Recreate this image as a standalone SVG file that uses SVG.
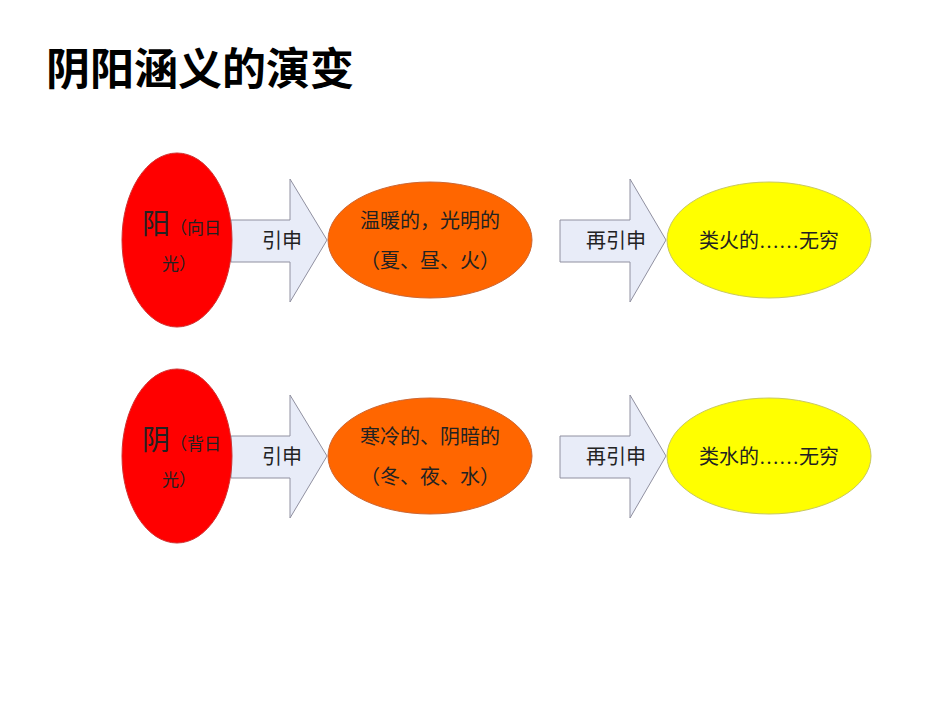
<svg xmlns="http://www.w3.org/2000/svg" width="950" height="713" viewBox="0 0 950 713">
<style>
text{font-family:"Liberation Serif","Noto Sans CJK SC",serif;fill:#222}
.t{font-size:20px}
.red{fill:#ff0000;stroke:#d03030;stroke-width:1}
.org{fill:#ff6600;stroke:#cc6633;stroke-width:1}
.yel{fill:#ffff00;stroke:#c8c860;stroke-width:1}
.arr{fill:#e8ecf8;stroke:#9090a0;stroke-width:1}
</style>
<rect width="950" height="713" fill="#fff"/>
<text x="46" y="85" style="font-family:'Noto Sans CJK SC',sans-serif;font-size:44px;font-weight:bold;fill:#000">阴阳涵义的演变</text>
<g id="connectors">
<polygon class="arr" points="231,220 290,220 290,179 327,240 290,302 290,262 231,262"/>
<polygon class="arr" points="560,220 630,220 630,179 666,240 630,302 630,262 560,262"/>
<polygon class="arr" points="231,436 290,436 290,395 327,456 290,518 290,478 231,478"/>
<polygon class="arr" points="560,436 630,436 630,395 666,456 630,518 630,478 560,478"/>
<text class="t" x="262" y="248">引申</text>
<text class="t" x="586" y="248">再引申</text>
<text class="t" x="262" y="464">引申</text>
<text class="t" x="586" y="464">再引申</text>
</g>
<g id="yang">
<ellipse class="red" cx="177" cy="240" rx="55" ry="87"/>
<text x="142" y="234" style="font-size:28px">阳<tspan font-size="17">（向日</tspan></text>
<text x="162" y="270" style="font-size:17px">光）</text>
</g>
<g id="warm">
<ellipse class="org" cx="430" cy="240" rx="102" ry="58"/>
<text class="t" x="430" y="228" text-anchor="middle">温暖的，光明的</text>
<text class="t" x="430" y="268" text-anchor="middle">（夏、昼、火）</text>
</g>
<g id="fire">
<ellipse class="yel" cx="769" cy="240" rx="102" ry="58"/>
<text class="t" x="769" y="248" text-anchor="middle">类火的……无穷</text>
</g>
<g id="yin">
<ellipse class="red" cx="177" cy="456" rx="55" ry="87"/>
<text x="142" y="450" style="font-size:28px">阴<tspan font-size="17">（背日</tspan></text>
<text x="162" y="486" style="font-size:17px">光）</text>
</g>
<g id="cold">
<ellipse class="org" cx="430" cy="456" rx="102" ry="58"/>
<text class="t" x="430" y="444" text-anchor="middle">寒冷的、阴暗的</text>
<text class="t" x="430" y="484" text-anchor="middle">（冬、夜、水）</text>
</g>
<g id="water">
<ellipse class="yel" cx="769" cy="456" rx="102" ry="58"/>
<text class="t" x="769" y="464" text-anchor="middle">类水的……无穷</text>
</g>
</svg>
